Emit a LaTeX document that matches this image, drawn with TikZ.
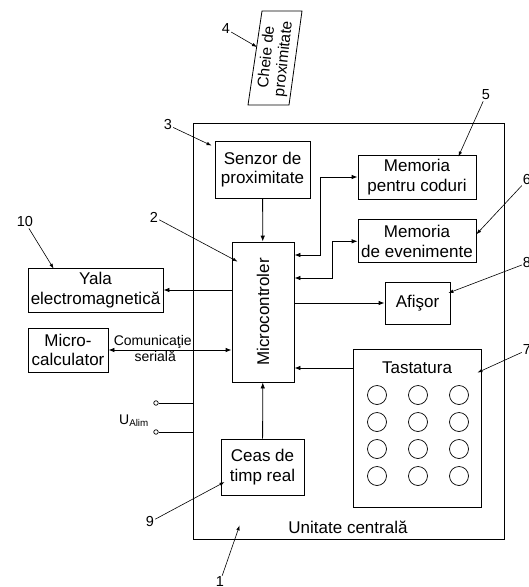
\documentclass[tikz,border=0pt]{standalone}
\usepackage{fontspec}
\setmainfont{Liberation Sans}
\usepackage{tikz}
\usetikzlibrary{
	arrows.meta,
	positioning
}

\begin{document}
\begin{tikzpicture}[x=1pt, y=-1pt,
				box/.style={
					rectangle, draw, line width=0.8pt,
					inner sep=0pt, align=center,
					font=\fontsize{17}{19.5}\selectfont
				},
				arrow/.style={-{Latex[length=6pt,width=4.5pt]}, line width=0.8pt},
				darrow/.style={{Latex[length=6pt,width=4.5pt]}-{Latex[length=6pt,width=4.5pt]}, line width=0.8pt},
				numlabel/.style={inner sep=1pt, font=\fontsize{14.5}{16}\selectfont},
				numarrow/.style={-{Latex[length=5pt,width=3.5pt]}, line width=0.6pt},
				smalltext/.style={inner sep=1pt, font=\fontsize{14}{15}\selectfont},
				terminal/.style={circle, draw, line width=0.7pt, inner sep=0pt, minimum size=4.5pt},
				]
				\useasboundingbox (0,0) rectangle (529,587);
				
				%central unit
				\node[draw, line width=0.8pt, minimum width=311pt, minimum height=416pt] (unit) at (348.5,331) {};
				\node[smalltext, font=\fontsize{17}{19}\selectfont] (unitlbl) at (348,527) {Unitate centrală};
				
				%key
				\node[rotate=84, align=center, font=\fontsize{15.5}{17}\selectfont] (cheie) at (275.5,58) {Cheie de\\proximitate};
				\draw[line width=0.8pt] (262,11) -- (302,11) -- (289,105) -- (248,105) -- cycle;
				\coordinate (cheieleft) at (257,47);
				
				%first set
				\node[box, minimum width=95pt, minimum height=57pt] (senzor) at (262.5,169.5) {Senzor de\\proximitate};
				\node[box, minimum width=62pt, minimum height=140pt] (mcu) at (263,312) {\rotatebox{90}{Microcontroler}};
				\draw[arrow] (senzor) -- (mcu);
				
				\node[box, minimum width=83pt, minimum height=56pt] (ceas) at (262.5,467) {Ceas de\\timp real};
				\draw[arrow] (ceas) -- (mcu);
				
				%memories
				\node[box, minimum width=118pt, minimum height=44pt] (memcod) at (417,177) {Memoria\\pentru coduri};
				\node[box, minimum width=118pt, minimum height=43pt, below=20pt of memcod] (memev) {Memoria\\de evenimente};
				\draw[darrow] ([yshift=57pt]mcu.east) -- ++(26,0) |- (memcod.west);
				\draw[darrow] ([yshift=34pt]mcu.east) -- ++(38,0) |- (memev.west);
				
				\node[box, minimum width=65pt, minimum height=42pt] (afisor) at (417.5,303) {Afişor};
				\draw[arrow] (mcu.east |- afisor.west) -- (afisor.west);
				
				%keyboard
				\node[box, minimum width=128pt, minimum height=158pt] (tastatura) at (417,428) {};
				\node[font=\fontsize{17}{19}\selectfont] (tastlbl) at (417,368) {Tastatura};
				\foreach \r in {0,...,3}
					\foreach \c in {0,1,2}
						\draw[line width=0.7pt] (377+41*\c, 395+27*\r) circle (9.5pt);
				\draw[arrow] (tastatura.west |- tastlbl) -- (mcu.east |- tastlbl);
				
				%outside
				\node[box, minimum width=135pt, minimum height=44pt] (yala) at (95.5,290) {Yala\\electromagnetică};
				\draw[arrow] (mcu.west |- yala.east) -- (yala.east);
				
				\node[box, minimum width=80pt, minimum height=44pt] (mcalc) at (68,350) {Micro-\\calculator};
				\draw[darrow] (mcalc.east) -- (mcu.west |- mcalc.east)
					node[smalltext, pos=0.36, above] (comm) {Comunicaţie}
					node[smalltext, pos=0.38, below] (serial) {serială};
				
				%supply
				\node[terminal] (term1) at (156,403) {};
				\node[terminal] (term2) at (156,432) {};
				\draw[line width=0.8pt] (term1) -- (term1 -| unit.west);
				\draw[line width=0.8pt] (term2) -- (term2 -| unit.west);
				\node[smalltext] (ualim) at (134,421) {U\textsubscript{Alim}};
				
				%numbers
				\node[numlabel] (n1) at (220,582) {1};
				\draw[numarrow] (n1) -- ([shift={(47pt,14pt)}]unit.south west);
				\node[numlabel] (n2) at (154,217) {2};
				\draw[numarrow] (n2) -- ([shift={(6pt,-20pt)}]mcu.north west);
				\node[numlabel] (n3) at (168,125) {3};
				\draw[numarrow] (n3) -- ([shift={(-3pt,-5pt)}]senzor.north west);
				\node[numlabel] (n4) at (226,29) {4};
				\draw[numarrow] (n4) -- (cheieleft);
				\node[numlabel] (n5) at (486,95) {5};
				\draw[numarrow] (n5) -- ([shift={(-18pt,-2pt)}]memcod.north east);
				\node[numlabel] (n6) at (527,180) {6};
				\draw[numarrow] (n6) -- ([yshift=7pt]memev.east);
				\node[numlabel] (n7) at (527,350) {7};
				\draw[numarrow] (n7) -- ([shift={(-4pt,-24pt)}]tastatura.north east);
				\node[numlabel] (n8) at (527,263) {8};
				\draw[numarrow] (n8) -- ([shift={(-2pt,10pt)}]afisor.east);
				\node[numlabel] (n9) at (150,522) {9};
				\draw[numarrow] (n9) -- ([shift={(4pt,-15pt)}]ceas.west);
				\node[numlabel] (n10) at (25,222) {10};
				\draw[numarrow] (n10) -- ([shift={(26pt,-1pt)}]yala.north west);
			\end{tikzpicture}
\end{document}
